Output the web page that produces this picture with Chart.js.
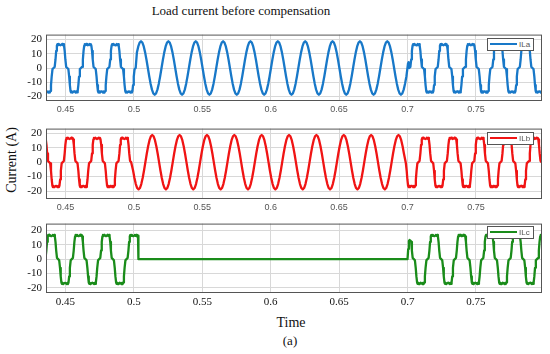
<!DOCTYPE html>
<html>
<head>
<meta charset="utf-8">
<script src="https://cdn.jsdelivr.net/npm/chart.js@4.4.0/dist/chart.umd.min.js"></script>
<style>
  body { margin: 0; background: #fff; width: 550px; height: 354px; position: relative; overflow: hidden; font-family: "Liberation Serif", serif; }
  .panel { position: absolute; left: 0; }
  .txt { position: absolute; white-space: nowrap; color: #111; }
  .legend { position: absolute; left: 487px; width: 45px; height: 11px; border: 1px solid #555; background: #fff; font: 8px "Liberation Sans", sans-serif; color: #555; }
  .legend .line { position: absolute; left: 2px; top: 4px; width: 27px; height: 2px; }
  .legend .lbl { position: absolute; left: 31px; top: 0; line-height: 11px; }
</style>
</head>
<body>
<div class="txt" style="left:241px; top:3px; font-size:13px; transform:translateX(-50%);">Load current before compensation</div>
<div class="txt" style="left:12px; top:160px; font-size:14px; transform:translate(-50%,-50%) rotate(-90deg);">Current (A)</div>
<div class="txt" style="left:291px; top:315px; font-size:14px; transform:translateX(-50%);">Time</div>
<div class="txt" style="left:290px; top:333px; font-size:13px; transform:translateX(-50%);">(a)</div>

<div class="panel" style="top:24px;"><canvas id="panelA" width="550" height="93"></canvas></div>
<div class="panel" style="top:118px;"><canvas id="panelB" width="550" height="97"></canvas></div>
<div class="panel" style="top:213px;"><canvas id="panelC" width="550" height="98"></canvas></div>

<div class="legend" style="top:38px;"><span class="line" style="background:#1878c8"></span><span class="lbl">ILa</span></div>
<div class="legend" style="top:132px;"><span class="line" style="background:#f01414"></span><span class="lbl">ILb</span></div>
<div class="legend" style="top:226px;"><span class="line" style="background:#1a8c1a"></span><span class="lbl">ILc</span></div>

<script>
// axis ticks
const timeTicks = [0.45, 0.5, 0.55, 0.6, 0.65, 0.7, 0.75];
const currentTicks = [-20, -10, 0, 10, 20];
const seriesLabels = ['ILa', 'ILb', 'ILc'];

// one period of the rectifier-type load current
// (ms after the rising zero crossing, amps)
const nonlinearMs = [0, 0.8, 1.4, 1.9, 2.4, 2.8, 3.3, 3.8, 4.4, 5.0, 5.6, 6.2, 6.7, 7.2, 7.6, 8.1, 8.6, 9.2,
                     10, 10.8, 11.4, 11.9, 12.4, 12.8, 13.3, 13.8, 14.4, 15.0, 15.6, 16.2, 16.7, 17.2, 17.6, 18.1, 18.6, 19.2];
const nonlinearAmps = [0, 0.8, 6, 12, 15.8, 16.8, 16.2, 16.9, 16.3, 16.0, 16.3, 16.9, 16.2, 16.8, 15.8, 12, 6, 0.8,
                       0, -0.8, -6, -12, -16.2, -17.2, -16.5, -17.3, -16.7, -16.4, -16.7, -17.3, -16.5, -17.2, -16.2, -12, -6, -0.8];

// one period of the sinusoidal current between 0.5 s and 0.7 s
const sineMs = [0, 1, 2, 3, 4, 5, 6, 7, 8, 9, 10, 11, 12, 13, 14, 15, 16, 17, 18, 19];
const sineAmps = [0, 5.8, 11.0, 15.2, 17.9, 18.8, 17.9, 15.2, 11.0, 5.8, 0, -5.8, -11.0, -15.2, -17.9, -18.8, -17.9, -15.2, -11.0, -5.8];

// [from, to, waveform, time of a positive peak]
const segmentsA = [[0.435, 0.50135, 'nonlinear', 0.4463], [0.5014, 0.7000, 'sine', 0.5052], [0.70125, 0.80, 'nonlinear', 0.4463]];
const segmentsB = [[0.435, 0.4981, 'nonlinear', 0.4530], [0.4981, 0.6982, 'sine', 0.5134], [0.6982, 0.80, 'nonlinear', 0.4530]];
const segmentsC = [[0.435, 0.5023, 'nonlinear', 0.4396], [0.7026, 0.80, 'nonlinear', 0.4396]];

// switching transients [time, amps]
const extrasA = [[0.7004, 3.5], [0.7008, 4.2], [0.7012, 3]];
const extrasB = [];
const extrasC = [[0.5030, 16.3], [0.5033, 0], [0.7000, 0], [0.7005, 7], [0.7010, 12.5], [0.7015, 13.3], [0.7021, 12.8]];

const shapes = {
  nonlinear: [nonlinearMs, nonlinearAmps],
  sine: [sineMs, sineAmps]
};

function buildSeries(segments, extras) {
  const pts = [];
  segments.forEach(function (seg) {
    const from = seg[0], to = seg[1];
    const ms = shapes[seg[2]][0], amps = shapes[seg[2]][1];
    const zero = seg[3] - 0.005;
    let k = Math.floor((from - zero) / 0.02) - 1;
    for (; zero + k * 0.02 <= to; k++) {
      for (let i = 0; i < ms.length; i++) {
        const t = zero + k * 0.02 + ms[i] / 1000;
        if (t >= from && t <= to) pts.push({ x: t, y: amps[i] });
      }
    }
  });
  extras.forEach(function (p) { pts.push({ x: p[0], y: p[1] }); });
  pts.sort(function (p, q) { return p.x - q.x; });
  return pts;
}

Chart.defaults.font.family = '"Liberation Serif", serif';

// full box round the plot area
const boxPlugin = {
  id: 'box',
  afterDraw: function (chart) {
    const a = chart.chartArea, ctx = chart.ctx;
    ctx.save();
    ctx.strokeStyle = '#555';
    ctx.lineWidth = 1;
    ctx.strokeRect(a.left + 0.5, a.top + 0.5, a.right - a.left - 1, a.bottom - a.top - 1);
    ctx.restore();
  }
};

function makePanel(id, label, points, color, yMin, yMax, xFont, xColor, xHeight) {
  const ctx = document.getElementById(id).getContext("2d");
  return new Chart(ctx, {
    type: "line",
    data: {
      datasets: [{
        label: label,
        data: points,
        borderColor: color,
        borderWidth: 2.3,
        pointRadius: 0,
        tension: 0,
        borderJoinStyle: 'round',
      }],
    },
    options: {
      responsive: false,
      animation: false,
      events: [],
      layout: { padding: { top: 4, right: 8, left: 0, bottom: 0 } },
      plugins: { legend: { display: false }, tooltip: { enabled: false } },
      scales: {
        x: {
          type: 'linear',
          min: 0.43575,
          max: 0.7983,
          afterBuildTicks: function (scale) { scale.ticks = timeTicks.map(function (v) { return { value: v }; }); },
          afterFit: function (scale) { scale.height = xHeight; },
          grid: { color: '#d8d8d8', drawTicks: false },
          border: { display: false },
          ticks: {
            padding: 3,
            maxRotation: 0,
            autoSkip: false,
            color: xColor,
            font: xFont,
            callback: function (v) { return String(v); },
          },
        },
        y: {
          min: yMin,
          max: yMax,
          afterBuildTicks: function (scale) { scale.ticks = currentTicks.map(function (v) { return { value: v }; }); },
          afterFit: function (scale) { scale.width = 46; },
          grid: { color: '#d8d8d8', drawTicks: false },
          border: { display: false },
          ticks: {
            padding: 4,
            color: '#111',
            font: { family: '"Liberation Serif", serif', size: 11 },
          },
        },
      },
    },
    plugins: [boxPlugin],
  });
}

document.addEventListener("DOMContentLoaded", function () {
  const smallSans = { family: '"Liberation Sans", sans-serif', size: 9 };
  const serif = { family: '"Liberation Serif", serif', size: 11 };
  makePanel("panelA", seriesLabels[0], buildSeries(segmentsA, extrasA), '#1878c8', -23.2, 23.5, smallSans, '#555', 16);
  makePanel("panelB", seriesLabels[1], buildSeries(segmentsB, extrasB), '#f01414', -25.5, 23.2, smallSans, '#555', 16);
  makePanel("panelC", seriesLabels[2], buildSeries(segmentsC, extrasC), '#1a8c1a', -23.5, 24.7, serif, '#111', 18);
});
</script>
</body>
</html>
